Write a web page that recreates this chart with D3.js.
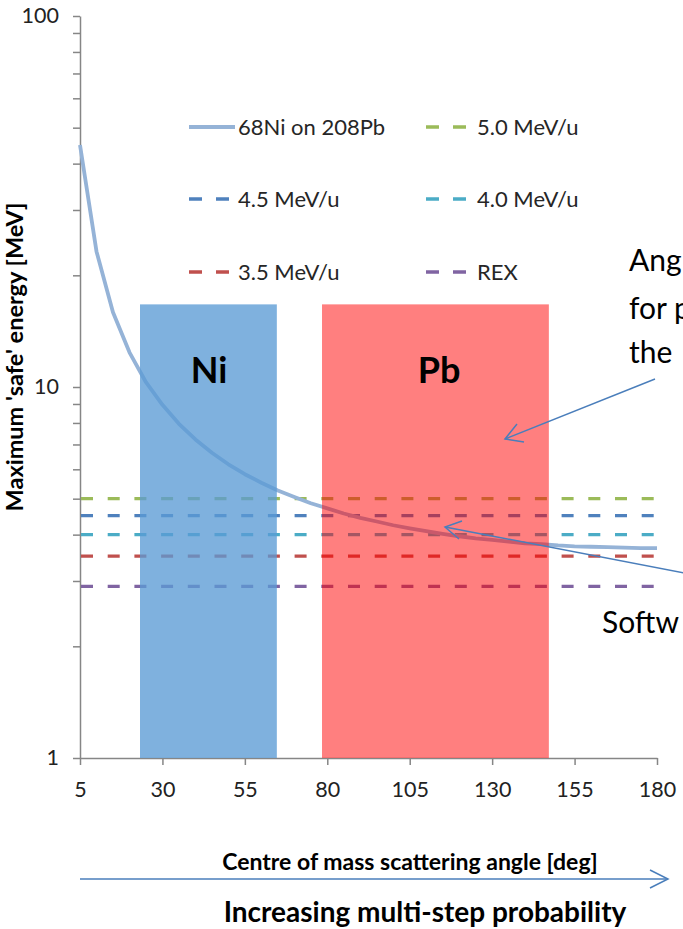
<!DOCTYPE html>
<html>
<head>
<meta charset="utf-8">
<script src="https://cdn.jsdelivr.net/npm/d3@7/dist/d3.min.js"></script>
<style>
html, body { margin: 0; padding: 0; background: #fff; overflow: hidden; }
svg { display: block; overflow: hidden; }
text { font-family: Lato, "Open Sans", sans-serif; }
</style>
</head>
<body>
<svg id="chart" width="683" height="929"></svg>
<script>
// ---- data ----
const angles = [5,10,15,20,25,30,35,40,45,50,55,60,65,70,75,80,85,90,95,100,105,110,115,120,125,130,135,140,145,150,155,160,165,170,175,180];
const safeEnergy = [44.9,23.2,15.9,12.4,10.3,8.95,7.96,7.22,6.65,6.19,5.82,5.52,5.26,5.05,4.86,4.71,4.56,4.44,4.34,4.24,4.16,4.09,4.02,3.96,3.91,3.87,3.83,3.79,3.77,3.74,3.72,3.71,3.70,3.69,3.68,3.68];
const curveName = "68Ni on 208Pb";
const levelNames = ["5.0 MeV/u","4.5 MeV/u","4.0 MeV/u","3.5 MeV/u","REX"];
const levelValues = [5.0,4.5,4.0,3.5,2.9];
const regionNames = ["Ni","Pb"];
const regionStart = [23.2,78.4];
const regionEnd = [64.7,147.2];
const regionTop = 16.7;
const xTicks = [5,30,55,80,105,130,155,180];
const yLabelTicks = [1,10,100];
const xTitle = "Centre of mass scattering angle [deg]";
const yTitle = "Maximum 'safe' energy [MeV]";
const bottomNote = "Increasing multi-step probability";
const noteTop = ["Ang","for p","the"];
const noteBottom = "Softw";

// ---- styles ----
const levelColors = ["#9BBB59","#4F81BD","#4BACC6","#C0504D","#8064A2"];
const curveColor = "#95B3D7";
const regionFill = ["#5B9BD5","#FF0000"];
const regionOpacity = [0.78,0.5];
const axisColor = "#868686";
const arrowColor = "#4A7EBB";

const svg = d3.select("#chart");
const x = d3.scaleLinear().domain([5,180]).range([80,657]);
const y = d3.scaleLog().domain([1,100]).range([758,16]);

// y axis with minor ticks
const yAllTicks = [];
for (let d = 1; d <= 100; d *= 10) for (let k = 1; k < 10; k++) { if (d*k <= 100) yAllTicks.push(d*k); }
const yAxis = d3.axisLeft(y).tickValues(yAllTicks).tickSize(7).tickSizeOuter(0).tickPadding(14)
  .tickFormat(v => yLabelTicks.includes(v) ? String(v) : "");
const gy = svg.append("g").attr("transform","translate(80,0)").call(yAxis);
gy.select(".domain").attr("stroke",axisColor).attr("stroke-width",1.5);
gy.selectAll(".tick line").attr("stroke",axisColor).attr("stroke-width",1.5);
gy.selectAll(".tick text").attr("font-size",21.5).attr("fill","#222").attr("font-family","Lato");

const xAxis = d3.axisBottom(x).tickValues(xTicks).tickSize(7).tickSizeOuter(0).tickPadding(17).tickFormat(d3.format("d"));
const gx = svg.append("g").attr("transform","translate(0,758)").call(xAxis);
gx.select(".domain").attr("stroke",axisColor).attr("stroke-width",1.5);
gx.selectAll(".tick line").attr("stroke",axisColor).attr("stroke-width",1.5);
gx.selectAll(".tick text").attr("font-size",21.5).attr("fill","#222").attr("font-family","Lato");

// level lines
svg.append("g").selectAll("line").data(levelValues).join("line")
  .attr("x1", x(5)).attr("x2", x(180))
  .attr("y1", d => y(d)).attr("y2", d => y(d))
  .attr("stroke", (d,i) => levelColors[i]).attr("stroke-width",3.3)
  .attr("stroke-dasharray","12,14.7").attr("stroke-dashoffset",-1);

// curve
const line = d3.line().x((d,i) => x(angles[i])).y(d => y(d));
svg.append("path").datum(safeEnergy).attr("d", line)
  .attr("fill","none").attr("stroke",curveColor).attr("stroke-width",3.8)
  .attr("stroke-linejoin","round");

// regions
const gr = svg.append("g");
regionNames.forEach((n,i) => {
  gr.append("rect")
    .attr("x", x(regionStart[i])).attr("y", y(regionTop))
    .attr("width", x(regionEnd[i]) - x(regionStart[i]))
    .attr("height", y(1) - y(regionTop))
    .attr("fill", regionFill[i]).attr("fill-opacity", regionOpacity[i]);
});
svg.append("text").attr("x",209).attr("y",383).attr("text-anchor","middle")
  .attr("font-size",36).attr("font-weight","bold").attr("fill","#000").text(regionNames[0]);
svg.append("text").attr("x",439).attr("y",383).attr("text-anchor","middle")
  .attr("font-size",36).attr("font-weight","bold").attr("fill","#000").text(regionNames[1]);

// legend
const legend = svg.append("g");
const legItems = [{name: curveName, color: curveColor, dash: null}]
  .concat(levelNames.map((n,i) => ({name:n, color:levelColors[i], dash:"13,14"})));
const legRowY = [127,199,272];
legItems.forEach((it,i) => {
  const col = i % 2, row = Math.floor(i/2);
  const x0 = col === 0 ? 189 : 426;
  const yy = legRowY[row];
  const l = legend.append("line").attr("x1",x0).attr("x2", x0 + (it.dash ? 40 : 46))
    .attr("y1",yy).attr("y2",yy).attr("stroke",it.color)
    .attr("stroke-width", it.dash ? 3.3 : 3.8);
  if (it.dash) l.attr("stroke-dasharray", it.dash);
  legend.append("text").attr("x", col === 0 ? 238 : 477).attr("y", yy + 8)
    .attr("font-size",22).attr("fill","#262626").text(it.name);
});

// axis titles
svg.append("text").attr("transform","translate(23,357) rotate(-90)").attr("text-anchor","middle")
  .attr("font-size",23.5).attr("font-weight","bold").attr("fill","#000").text(yTitle);
svg.append("text").attr("x",410).attr("y",870).attr("text-anchor","middle")
  .attr("font-size",23).attr("font-weight","bold").attr("fill","#000").text(xTitle);

// bottom arrow
svg.append("line").attr("x1",80).attr("x2",668).attr("y1",879).attr("y2",879)
  .attr("stroke",arrowColor).attr("stroke-width",1.5);
svg.append("path").attr("d","M650,870 L668,879 L650,888").attr("fill","none")
  .attr("stroke",arrowColor).attr("stroke-width",1.5);
svg.append("text").attr("x",425).attr("y",922).attr("text-anchor","middle")
  .attr("font-size",28).attr("font-weight","bold").attr("fill","#000").text(bottomNote);

// annotations
const noteY = [271,319,363];
noteTop.forEach((t,i) => {
  svg.append("text").attr("x",629).attr("y",noteY[i]).attr("font-size",30).attr("fill","#000").text(t);
});
svg.append("text").attr("x",602).attr("y",633).attr("font-size",30).attr("fill","#000").text(noteBottom);

// annotation arrows
svg.append("line").attr("x1",655).attr("y1",379).attr("x2",505).attr("y2",439)
  .attr("stroke",arrowColor).attr("stroke-width",1.5);
svg.append("path").attr("d","M517,424 L505,439 L524,442").attr("fill","none")
  .attr("stroke",arrowColor).attr("stroke-width",1.5);
svg.append("line").attr("x1",690).attr("y1",574).attr("x2",445).attr("y2",527)
  .attr("stroke",arrowColor).attr("stroke-width",1.5);
svg.append("path").attr("d","M462,521 L445,527 L459,539").attr("fill","none")
  .attr("stroke",arrowColor).attr("stroke-width",1.5);
</script>
</body>
</html>
